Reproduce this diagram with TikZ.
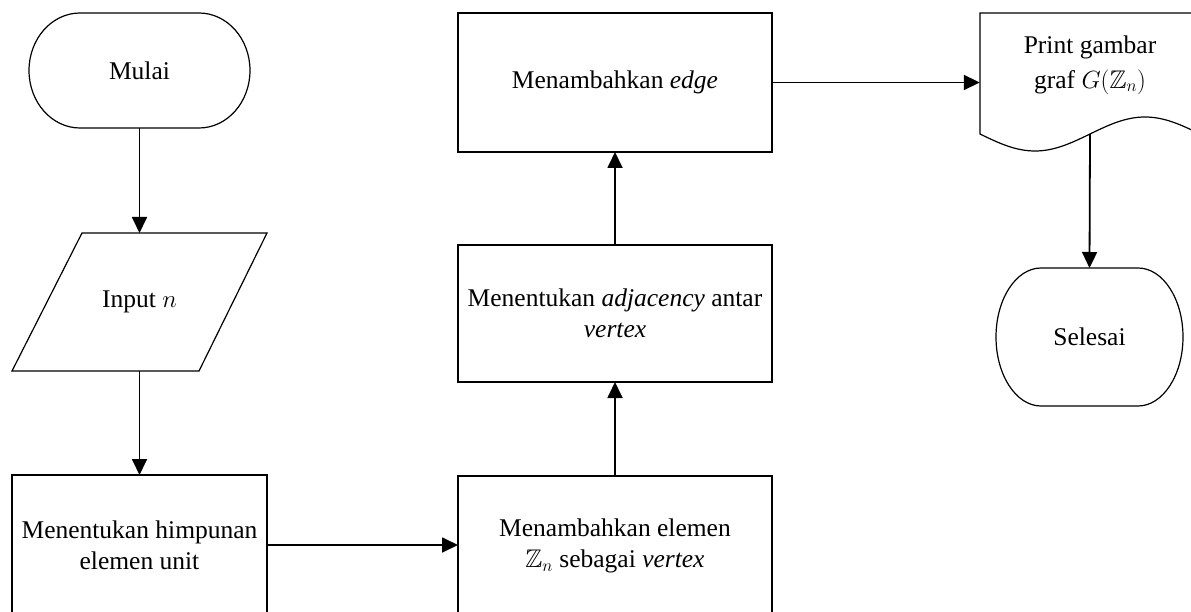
\documentclass[tikz,border=0pt]{standalone}
\usepackage{amssymb}
\usepackage{fontspec}
\setmainfont{Liberation Serif}
\usetikzlibrary{arrows.meta}
\tikzset{
  txt/.style={align=center, font=\fontsize{25.5}{31}\selectfont, inner sep=0pt, outer sep=0pt},
  frame/.style={draw=black, line width=1.2pt},
  boxnode/.style={txt, frame, rectangle},
  flow/.style={line width=1.8pt, -{Triangle[length=16pt,width=15pt]}}
}
\begin{document}
\begin{tikzpicture}[x=1pt,y=-1pt]
\useasboundingbox (0,0) rectangle (1191,612);
\clip (0,0) rectangle (1191,612);
\fill[white] (0,0) rectangle (1191,612);

% Mulai (terminator)
\node[txt, minimum width=221pt, minimum height=115pt] (mulai) at (139.5,70.5) {Mulai};
\draw[frame] (80,13) -- (199,13) arc[start angle=-90,end angle=90,x radius=51,y radius=57.5]
  -- (80,128) arc[start angle=90,end angle=270,x radius=51,y radius=57.5] -- cycle;

% Input n (parallelogram)
\node[txt, minimum width=255pt, minimum height=138pt] (input) at (139.5,302) {Input $n$};
\draw[frame] (82,233) -- (267,233) -- (199,371) -- (12,371) -- cycle;

% Rectangles
\node[boxnode, minimum width=255pt, minimum height=140pt] (himp) at (139.5,545) {Menentukan himpunan\\elemen unit};
\node[boxnode, minimum width=314pt, minimum height=140pt] (elem) at (615,546) {Menambahkan elemen\\$\mathbb{Z}_n$ sebagai \textit{vertex}};
\node[boxnode, minimum width=314pt, minimum height=137pt] (adj) at (615,313.5) {Menentukan \textit{adjacency} antar\\\textit{vertex}};
\node[boxnode, minimum width=314pt, minimum height=139pt] (edge) at (615,82.5) {Menambahkan \textit{edge}};

% Print (document shape)
\node[minimum width=220pt, minimum height=121pt, inner sep=0pt] (doc) at (1090,73.5) {};
\node[txt] (doctext) at (1090,65) {Print gambar\\[4pt]graf $G(\mathbb{Z}_n)$};
\draw[frame] (980,13) -- (1200,13) -- (1200,134)
  sin (1145,117) cos (1090,134) sin (1035,151) cos (980,134) -- cycle;

% Selesai (terminator)
\node[txt, minimum width=187pt, minimum height=138pt] (selesai) at (1089.5,337) {Selesai};
\draw[frame] (1041,268) -- (1138,268) arc[start angle=-90,end angle=90,x radius=45,y radius=69]
  -- (1041,406) arc[start angle=90,end angle=270,x radius=45,y radius=69] -- cycle;

% Connectors
\draw[flow] (mulai.south) -- (input.north);
\draw[flow] (input.south) -- (himp.north);
\draw[flow] (himp.east) -- (himp.east -| elem.west);
\draw[flow] (elem.north) -- (adj.south);
\draw[flow] (adj.north) -- (edge.south);
\draw[flow] (edge.east) -- (edge.east -| doc.west);
\draw[flow] (doc.south) -- (selesai.north);
\end{tikzpicture}
\end{document}
